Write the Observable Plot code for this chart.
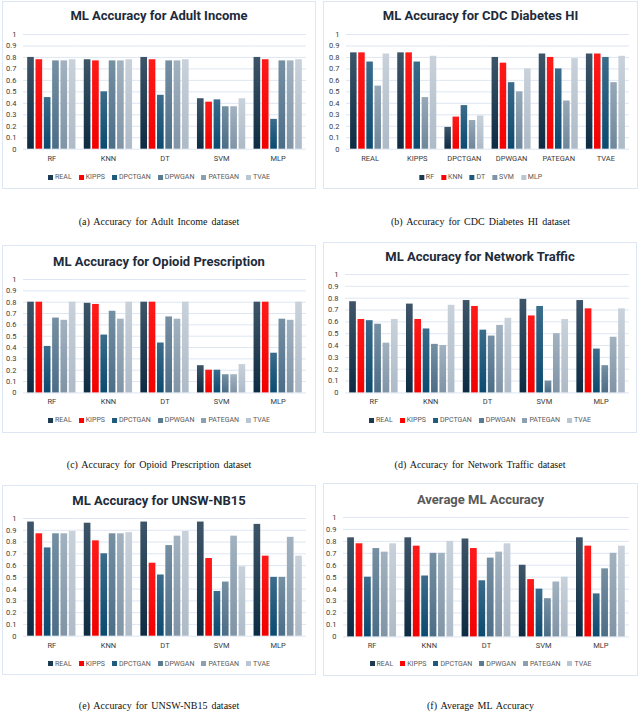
<!DOCTYPE html>
<html><head><meta charset="utf-8">
<script src="https://cdn.jsdelivr.net/npm/d3@7"></script>
<script src="https://cdn.jsdelivr.net/npm/@observablehq/plot@0.6"></script>
<style>
body{margin:0;width:640px;height:715px;position:relative;background:#fff;overflow:hidden;font-family:Roboto,'Noto Sans',sans-serif}
.box{position:absolute;border:1.5px solid #dde6f3;box-sizing:border-box}
.title{position:absolute;text-align:center;font-weight:700;font-size:13px;color:#1d2b3a;white-space:nowrap;transform:translate(-50%,-50%)}
.legend{position:absolute;display:flex;gap:7px;font-size:7px;color:#595959;white-space:nowrap;transform:translate(-50%,-50%);align-items:center}
.sw{display:inline-block;width:5px;height:5px;margin-right:2px;vertical-align:middle}
.cap{position:absolute;font-family:'Liberation Serif','DejaVu Serif',serif;font-size:10px;color:#111;white-space:nowrap;transform:translate(-50%,-50%);word-spacing:1.5px}
svg{position:absolute;overflow:visible}
</style></head><body>
<script>
// ---- data ----
const models = ["RF", "KNN", "DT", "SVM", "MLP"];
const generators = ["REAL", "KIPPS", "DPCTGAN", "DPWGAN", "PATEGAN", "TVAE"];
const yTicks = [0, 0.1, 0.2, 0.3, 0.4, 0.5, 0.6, 0.7, 0.8, 0.9, 1];

// rows = models, columns = generators
const adultIncome = [
  [0.80, 0.78, 0.45, 0.77, 0.77, 0.78],
  [0.78, 0.77, 0.50, 0.77, 0.77, 0.78],
  [0.80, 0.78, 0.47, 0.77, 0.77, 0.78],
  [0.44, 0.41, 0.43, 0.37, 0.37, 0.44],
  [0.80, 0.78, 0.26, 0.77, 0.77, 0.78]
];
// rows = generators, columns = models
const cdcDiabetes = [
  [0.84, 0.84, 0.76, 0.55, 0.83],
  [0.84, 0.84, 0.76, 0.45, 0.81],
  [0.19, 0.28, 0.38, 0.25, 0.29],
  [0.80, 0.75, 0.58, 0.50, 0.70],
  [0.83, 0.80, 0.70, 0.42, 0.79],
  [0.83, 0.83, 0.80, 0.58, 0.81]
];
const opioidPrescription = [
  [0.80, 0.80, 0.41, 0.66, 0.64, 0.80],
  [0.79, 0.78, 0.51, 0.72, 0.65, 0.80],
  [0.80, 0.80, 0.44, 0.67, 0.65, 0.80],
  [0.24, 0.20, 0.20, 0.16, 0.16, 0.25],
  [0.80, 0.80, 0.35, 0.65, 0.64, 0.80]
];
const networkTraffic = [
  [0.77, 0.62, 0.61, 0.58, 0.42, 0.62],
  [0.75, 0.62, 0.54, 0.41, 0.40, 0.74],
  [0.78, 0.73, 0.53, 0.48, 0.57, 0.63],
  [0.79, 0.65, 0.73, 0.10, 0.50, 0.62],
  [0.78, 0.71, 0.37, 0.23, 0.47, 0.71]
];
const unswNb15 = [
  [0.97, 0.87, 0.75, 0.87, 0.87, 0.89],
  [0.96, 0.81, 0.70, 0.87, 0.87, 0.88],
  [0.97, 0.62, 0.52, 0.77, 0.85, 0.89],
  [0.97, 0.66, 0.38, 0.46, 0.85, 0.59],
  [0.95, 0.68, 0.50, 0.50, 0.84, 0.68]
];
const averageAccuracy = [
  [0.83, 0.78, 0.50, 0.74, 0.71, 0.78],
  [0.83, 0.76, 0.51, 0.70, 0.70, 0.80],
  [0.82, 0.74, 0.47, 0.66, 0.71, 0.78],
  [0.60, 0.48, 0.40, 0.32, 0.46, 0.50],
  [0.83, 0.76, 0.36, 0.57, 0.70, 0.76]
];

const titles = ["ML Accuracy for Adult Income", "ML Accuracy for CDC Diabetes HI", "ML Accuracy for Opioid Prescription",
  "ML Accuracy for Network Traffic", "ML Accuracy for UNSW-NB15", "Average ML Accuracy"];
const captions = ["(a) Accuracy for Adult Income dataset", "(b) Accuracy for CDC Diabetes HI dataset",
  "(c) Accuracy for Opioid Prescription dataset", "(d) Accuracy for Network Traffic dataset",
  "(e) Accuracy for UNSW-NB15 dataset", "(f) Average ML Accuracy"];

// ---- styling / layout ----
// [top, bottom] gradient stops per series colour
const genGrad = [["#3e5569", "#0c2b42"], ["#ff1a1a", "#f20000"], ["#3b6c8b", "#0b4a70"], ["#7690a3", "#4c6d87"], ["#a2b2c0", "#8094a6"], ["#c9d2db", "#adbac7"]];
const modelGrad = [genGrad[0], genGrad[1], genGrad[2], ["#97a9b8", "#6f879b"], genGrad[5]];
const genColors = ["#1b3a52", "#ff0000", "#1d5a7e", "#5b7b93", "#8c9fb0", "#b9c5d0"];
const modelColors = ["#1b3a52", "#ff0000", "#1d5a7e", "#7f95a7", "#b9c5d0"];

const panels = [
  {data: adultIncome, cats: models, sers: generators, colors: genColors, grads: genGrad, box: [2, 1, 316, 189], tY: 15, y1: 34.3, y0: 149, gx: [23, 306], lY: 177, cY: 221},
  {data: cdcDiabetes, cats: generators, sers: models, colors: modelColors, grads: modelGrad, box: [323, 1, 638, 189], tY: 15, y1: 34.3, y0: 149, gx: [346, 629], lY: 177, cY: 221},
  {data: opioidPrescription, cats: models, sers: generators, colors: genColors, grads: genGrad, box: [2, 245, 316, 433], tY: 260.7, y1: 279.3, y0: 392.7, gx: [23, 306], lY: 420, cY: 464},
  {data: networkTraffic, cats: models, sers: generators, colors: genColors, grads: genGrad, box: [323, 242, 637, 433], tY: 255.7, y1: 274.3, y0: 392.7, gx: [345, 629], lY: 420, cY: 464},
  {data: unswNb15, cats: models, sers: generators, colors: genColors, grads: genGrad, box: [2, 485, 316, 675], tY: 500, y1: 518.3, y0: 636, gx: [23, 306], lY: 663.7, cY: 705},
  {data: averageAccuracy, cats: models, sers: generators, colors: genColors, grads: genGrad, box: [323, 483, 638, 676], tY: 499, y1: 517.3, y0: 636.7, gx: [343, 629], lY: 663.7, cY: 705, gray: true}
];

function el(tag, cls, parent) { const e = document.createElement(tag); if (cls) e.className = cls; (parent || document.body).appendChild(e); return e; }

panels.forEach((p, i) => {
  const [bx0, by0, bx1, by1] = p.box;
  const box = el("div", "box");
  Object.assign(box.style, {left: bx0 + "px", top: by0 + "px", width: (bx1 - bx0) + "px", height: (by1 - by0) + "px"});
  const cx = (bx0 + bx1) / 2;

  const t = el("div", "title");
  t.textContent = titles[i];
  Object.assign(t.style, {left: cx + "px", top: p.tY + "px"});
  if (p.gray) t.style.color = "#595959";

  const rows = [];
  p.cats.forEach((c, ci) => p.sers.forEach((s, si) => rows.push({cat: c, ser: s, value: p.data[ci][si]})));

  const fills = p.sers.map((s, si) => `url(#grad${i}_${si})`);
  const mt = 12, mb = 24;
  const chart = Plot.plot({
    width: bx1 - bx0,
    height: (p.y0 - p.y1) + mt + mb,
    marginLeft: p.gx[0] - bx0,
    marginRight: bx1 - p.gx[1],
    marginTop: mt,
    marginBottom: mb,
    style: {fontSize: "7.5px", fontFamily: "Roboto, sans-serif", color: "#3a3a3a", background: "transparent", overflow: "visible"},
    fx: {domain: p.cats, padding: 0, round: false, axis: "bottom", label: null, tickSize: 0, tickPadding: 6},
    x: {domain: p.sers, axis: null, paddingInner: 0.2, paddingOuter: 0.5, round: false},
    y: {domain: [0, 1], ticks: yTicks, tickFormat: d3.format("~g"), tickSize: 0, tickPadding: 7, label: null},
    color: {domain: p.sers, range: fills},
    marks: [
      Plot.ruleY(yTicks, {stroke: "#dde6f2", strokeWidth: 1}),
      Plot.barY(rows, {fx: "cat", x: "ser", y: "value", fill: "ser"})
    ]
  });
  const defs = d3.select(chart).insert("defs", ":first-child");
  p.grads.forEach((g, si) => {
    const lg = defs.append("linearGradient").attr("id", `grad${i}_${si}`).attr("x1", 0).attr("y1", 0).attr("x2", 0).attr("y2", 1);
    lg.append("stop").attr("offset", "0%").attr("stop-color", g[0]);
    lg.append("stop").attr("offset", "100%").attr("stop-color", g[1]);
  });
  chart.style.left = bx0 + "px";
  chart.style.top = (p.y1 - mt) + "px";
  document.body.appendChild(chart);

  const lg = el("div", "legend");
  Object.assign(lg.style, {left: cx + "px", top: p.lY + "px"});
  p.sers.forEach((s, si) => {
    const it = el("span", null, lg);
    const sw = el("span", "sw", it);
    sw.style.background = p.colors[si];
    it.appendChild(document.createTextNode(s));
  });

  const cap = el("div", "cap");
  cap.textContent = captions[i];
  Object.assign(cap.style, {left: cx + "px", top: p.cY + "px"});
});
</script>
</body></html>
